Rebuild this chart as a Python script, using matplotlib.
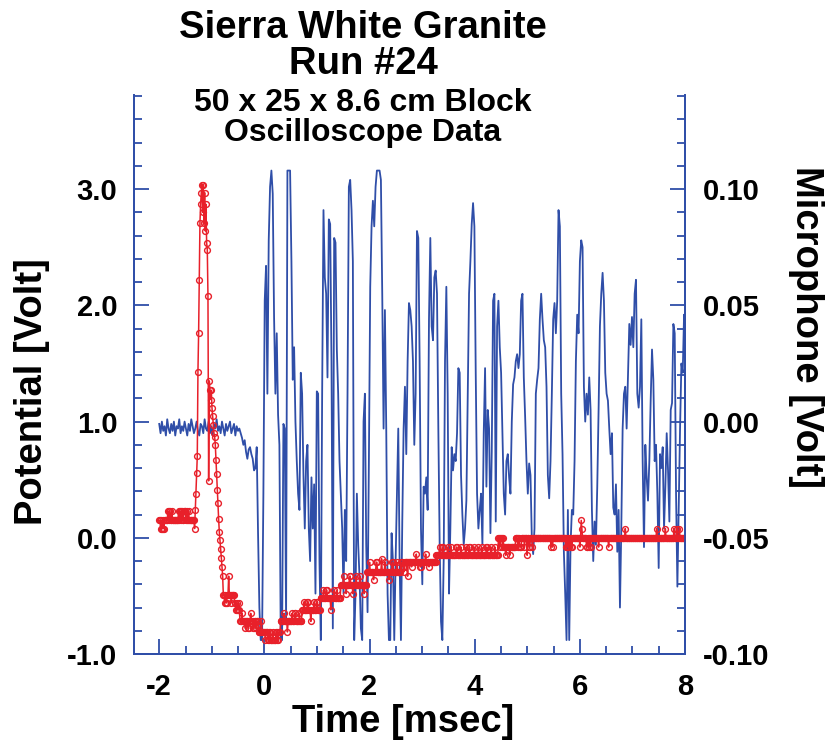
import numpy as np
import matplotlib
matplotlib.use("Agg")
import matplotlib.pyplot as plt
from matplotlib.ticker import MultipleLocator, FormatStrFormatter

plt.rcParams['font.family'] = ['Liberation Sans', 'DejaVu Sans']
plt.rcParams['font.weight'] = 'bold'
plt.rcParams['axes.unicode_minus'] = False

title_lines = ["Sierra White Granite", "Run #24", "50 x 25 x 8.6 cm Block", "Oscilloscope Data"]
x_label = "Time [msec]"
left_label = "Potential [Volt]"
right_label = "Microphone [Volt]"

# microphone trace, mV, sampled every mic_dt msec from mic_t0
mic_t0 = -2.0
mic_dt = 0.0254
mic_mv = [
    -1, -5, 0, -4, -2, -6, 1, -3, -5, -1, -4, 0, -6, -2, -3, 1, -5, -2, -4, 0,
    -3, -6, -1, -4, 1, -2, -5, -3, 0, -4, -6, -1, -2, -5, 1, -3, -4, 0, -5, -2,
    -6, -1, -3, 1, -4, -2, -5, 0, -3, -6, -1, -4, -2, 0, -5, -3, -1, -6, -2, -4,
    -3, -5, -7, -10, -8, -13, -16, -12,
    -11, -14, -16, -21, -20, -11, -48, -80, -94, -94, -31, 52, 67, 12, 78, 101, 108, 98, 45, 12,
    38, 3, -10, -94, -94, -1, -3, -86, 108, 108, 108, 69, 18, 32, 0, -17, -31, -38, 21, 12,
    -23, -46, -17, -10, -46, -60, -24, -46, -27, -74, 13, 12, -60, -94, 12, 91, 62, 55, 19, 87,
    85, 26, -89, 79, 77, 31, 12, -17, -31, -46, -74, -38, -60, 12, 101,
    104, 91, 69, -94, -74, -31, -53, -67, -89, -94, 0, 12, -53, -82, -17, 58, 84, 95, 84, 101,
    108, 108, 108, 104, 55, -3, 48, -3, -74, -94, -94, -48, -60, -94, -60, -31, -3, -60, -94, -43,
    -3, 15, -14, 26, 51, 48, 41, 26, -10, 12, 82, 79, 26, -46, -70, -28, -31, -24, -38, 44,
    79, 41, 35, 62, 65, 55, -3, -53, -86, -94, -60, 26, 58, 12, -74,
    -46, -11, -21, -14, -17, -5, 23, 21, -23, -40, -53, -46, -34, 9, 55, 69, 85, 94, 84, 21,
    -31, -46, -38, -31, -53, -5, 23, -28, 5, -3, -48, -13, 52, 55, -43, 41, 52, 32, 21, -5,
    -31, -40, -17, -14, -24, -31, 0, 16, 19, 26, 29, 23, 29, 52, 55, 19, 2, -17, -31, -18,
    -23, -50, -57, -46, 12, 18, 23, 44, 55, 44, 35, 32, 15, -23, -33,
    -17, 12, 44, 51, 38, 52, 91, 84, 12, -14, -56, -74, -94, -38, -94, -53, -38, -40, -17, 26,
    46, 38, 69, 78, 75, 15, 0, 12, 3, 19, 5, -38, -60, -43, -53, -28, 5, 41, 55, 64,
    52, 21, 12, 9, -3, -14, -5, -37, -40, -27, -56, -38, -80, -46, -3, 12, 15, -3, 19, 42,
    33, 45, 32, 55, 61, 12, 6, 15, 44, -17, -54, -10, -24, -34, -17, 9, 31, 18, -17, -10,
    -31, -63, -14, -20, -11, -46, -28, -5, -21, -43, 5, 8, 42, 38, -31, -71, -38, -3, 25, 21,
    46, 38,
]

# potential trace, volts, as (level, number of samples)
pot_t0 = -2.0
pot_dt = 0.0127
pot_runs = [
    (0.15, 2), (0.08, 1), (0.15, 1), (0.08, 2), (0.15, 1), (0.08, 1), (0.15, 5), (0.23, 1),
    (0.15, 1), (0.23, 2), (0.15, 2), (0.23, 1), (0.15, 9), (0.23, 1), (0.15, 1), (0.23, 2),
    (0.15, 1), (0.23, 1), (0.15, 2), (0.23, 3), (0.15, 1), (0.23, 1), (0.15, 2), (0.23, 1),
    (0.15, 8), (0.08, 1),
    (0.24, 1), (0.38, 1), (0.56, 1), (0.70, 1), (1.43, 1), (1.76, 1), (2.22, 1), (2.71, 1),
    (2.87, 1), (2.97, 1), (3.04, 1), (2.80, 1), (3.04, 1), (2.71, 1), (2.97, 1), (2.64, 1),
    (2.87, 1), (2.54, 1), (2.48, 1),
    (2.08, 1), (0.49, 1), (1.35, 1), (1.27, 1), (1.19, 1), (1.27, 1), (1.12, 1), (1.05, 1),
    (0.97, 1), (0.90, 1), (0.87, 1),
    (0.80, 1), (0.67, 1), (0.55, 1), (0.41, 1), (0.30, 1), (0.16, 1), (0.05, 1), (-0.02, 1),
    (-0.10, 1), (-0.17, 1), (-0.25, 1),
    (-0.33, 1), (-0.49, 2), (-0.56, 1), (-0.49, 1), (-0.56, 2), (-0.49, 2), (-0.33, 1),
    (-0.49, 3), (-0.56, 1), (-0.49, 4),
    (-0.56, 2), (-0.62, 1), (-0.56, 1), (-0.62, 2), (-0.56, 1), (-0.62, 1),
    (-0.72, 3), (-0.65, 1), (-0.72, 4), (-0.78, 1), (-0.72, 3), (-0.78, 2), (-0.72, 2),
    (-0.65, 1), (-0.72, 3), (-0.78, 2), (-0.72, 2), (-0.78, 1), (-0.72, 3),
    (-0.81, 4), (-0.72, 1), (-0.81, 5), (-0.88, 1), (-0.81, 3), (-0.88, 2), (-0.81, 2),
    (-0.88, 3), (-0.81, 1), (-0.88, 4), (-0.81, 2), (-0.88, 2), (-0.81, 3),
    (-0.72, 5), (-0.65, 1), (-0.72, 4), (-0.81, 1), (-0.72, 6), (-0.65, 1), (-0.72, 3),
    (-0.65, 2), (-0.72, 5), (-0.65, 1), (-0.72, 3),
    (-0.62, 3), (-0.55, 1), (-0.62, 4), (-0.55, 2), (-0.62, 3), (-0.72, 1), (-0.62, 4),
    (-0.55, 1), (-0.62, 3), (-0.55, 2), (-0.62, 4),
    (-0.52, 4), (-0.45, 1), (-0.52, 3), (-0.45, 2), (-0.52, 5), (-0.62, 1), (-0.52, 4),
    (-0.45, 1), (-0.52, 3), (-0.45, 1), (-0.52, 5),
    (-0.41, 4), (-0.33, 1), (-0.41, 3), (-0.48, 1), (-0.41, 4), (-0.33, 2), (-0.41, 3),
    (-0.48, 1), (-0.41, 4), (-0.33, 1), (-0.41, 5), (-0.33, 1), (-0.41, 5), (-0.48, 1),
    (-0.41, 3),
    (-0.29, 4), (-0.21, 1), (-0.29, 5), (-0.36, 1), (-0.29, 3), (-0.21, 2), (-0.29, 6),
    (-0.18, 1), (-0.29, 4), (-0.21, 1), (-0.29, 5), (-0.36, 1), (-0.29, 4), (-0.21, 2),
    (-0.29, 5), (-0.21, 1), (-0.29, 5),
    (-0.21, 3), (-0.25, 2), (-0.29, 1), (-0.21, 4), (-0.33, 1), (-0.21, 5), (-0.25, 1),
    (-0.21, 6), (-0.14, 1), (-0.21, 5), (-0.25, 2), (-0.21, 6), (-0.14, 1), (-0.21, 4),
    (-0.25, 1), (-0.21, 10),
    (-0.15, 5), (-0.08, 1), (-0.15, 3), (-0.08, 2), (-0.15, 6), (-0.08, 1), (-0.15, 4),
    (-0.08, 1), (-0.15, 7), (-0.08, 2), (-0.15, 5), (-0.08, 1), (-0.15, 6), (-0.08, 1),
    (-0.15, 4), (-0.08, 2), (-0.15, 6), (-0.08, 1), (-0.15, 5), (-0.08, 1), (-0.15, 4),
    (-0.08, 1), (-0.15, 6), (-0.08, 2), (-0.15, 5), (-0.08, 1), (-0.15, 5), (-0.08, 1),
    (-0.15, 4),
    (0.0, 2), (-0.08, 1), (0.0, 3), (-0.08, 1), (0.0, 1),
    (-0.08, 3), (-0.15, 1), (-0.08, 5), (-0.15, 1), (-0.08, 6),
    (-0.08, 2), (0.0, 3), (-0.08, 1), (0.0, 2), (-0.08, 3), (0.0, 4), (-0.08, 1), (0.0, 3),
    (-0.15, 1), (0.0, 2), (-0.08, 2), (0.0, 3), (-0.08, 1), (0.0, 2),
    (0.0, 25), (-0.08, 1), (0.0, 1), (-0.08, 1), (0.0, 19), (-0.08, 2), (0.0, 1), (-0.08, 2),
    (0.0, 2), (-0.08, 1), (0.0, 1), (-0.08, 1), (0.0, 11), (-0.08, 1), (0.0, 1), (0.15, 1),
    (0.08, 1), (0.0, 6), (-0.08, 2), (0.0, 2), (-0.08, 1), (0.0, 1), (-0.08, 1), (0.0, 11),
    (-0.08, 1), (0.0, 14), (-0.08, 1), (0.0, 24), (0.08, 1), (0.0, 46), (0.08, 1), (0.0, 12),
    (0.08, 1), (0.0, 12), (0.08, 1), (0.0, 3), (0.08, 1), (0.0, 3), (0.08, 1), (0.0, 6),
]

blue = '#2f4ea8'
red = '#e8202a'

mic_v = np.array(mic_mv) / 1000.0
mic_t = mic_t0 + mic_dt * np.arange(len(mic_v))
levels, counts = zip(*pot_runs)
pot_v = np.repeat(levels, counts)
pot_t = pot_t0 + pot_dt * np.arange(len(pot_v))

fig = plt.figure(figsize=(8.25, 7.56), dpi=100)
ax = fig.add_axes([0.1624, 0.1349, 0.6679, 0.7394])
ax2 = ax.twinx()
ax.set_zorder(2)
ax2.set_zorder(1)
ax.patch.set_visible(False)

ax2.plot(mic_t, mic_v, color=blue, lw=1.3)
ax.plot(pot_t, pot_v, color=red, lw=1.1, marker='o', ms=4.2, mfc='none', mec=red, mew=1.0)

ax.set_xlim(-2.48, 8.0)
ax.set_ylim(-1.0, 3.81)
ax2.set_ylim(-0.10, 0.1405)

ax.xaxis.set_major_locator(MultipleLocator(2))
ax.xaxis.set_minor_locator(MultipleLocator(0.5))
ax.yaxis.set_major_locator(MultipleLocator(1))
ax.yaxis.set_minor_locator(MultipleLocator(0.2))
ax.yaxis.set_major_formatter(FormatStrFormatter('%.1f'))
ax2.yaxis.set_major_locator(MultipleLocator(0.05))
ax2.yaxis.set_minor_locator(MultipleLocator(0.01))
ax2.yaxis.set_major_formatter(FormatStrFormatter('%.2f'))

for a in (ax, ax2):
    a.spines['top'].set_visible(False)
    for s in ('left', 'right', 'bottom'):
        a.spines[s].set_color(blue)
        a.spines[s].set_linewidth(1.3)
    a.tick_params(which='both', direction='in', color=blue, width=1.3,
                  labelsize=21, labelcolor='black')
    a.tick_params(which='major', length=11)
    a.tick_params(which='minor', length=6)
ax.tick_params(axis='y', pad=12)
ax.tick_params(axis='x', pad=14)
ax2.tick_params(axis='y', pad=13)

tx = 0.44
for line, y, size in zip(title_lines, [0.963, 0.915, 0.864, 0.824], [27.5, 27.5, 23, 23]):
    fig.text(tx, y, line, ha='center', va='center', fontsize=size, fontweight='bold')

fig.text(0.489, 0.045, x_label, ha='center', va='center', fontsize=27.5, fontweight='bold')
fig.text(0.039, 0.4815, left_label, ha='center', va='center', rotation=90,
         fontsize=27.5, fontweight='bold')
fig.text(0.977, 0.567, right_label, ha='center', va='center', rotation=-90,
         fontsize=27.5, fontweight='bold')

fig.savefig('out.png', dpi=100, facecolor='white')
